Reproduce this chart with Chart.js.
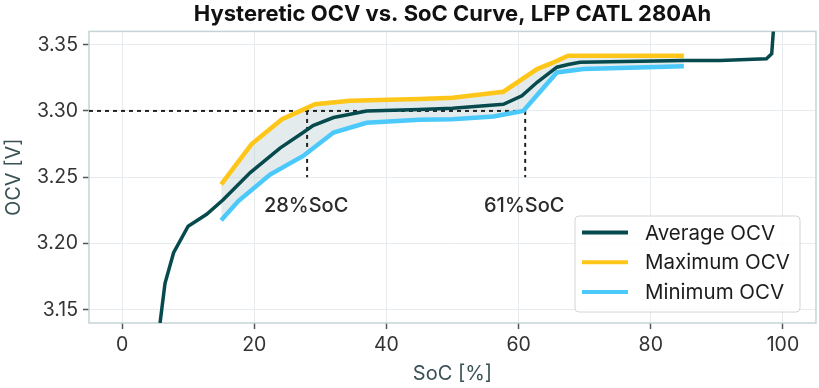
<!DOCTYPE html>
<html>
<head>
<meta charset="utf-8">
<script src="https://cdn.jsdelivr.net/npm/chart.js@4.4.1/dist/chart.umd.min.js"></script>
<style>
  html, body { margin: 0; padding: 0; background: #fff; }
  #wrap { width: 819px; height: 388px; }
</style>
</head>
<body>
<div id="wrap"><canvas id="ocvChart" width="819" height="388"></canvas></div>
<script>
// values
const socAvg = [5.75, 6.5, 7.8, 10.0, 12.8, 15.3, 19.4, 23.9, 27.4, 28.9, 32, 37, 45, 50, 57.7, 60.5, 62.8, 65.8, 67.5, 69.3, 85, 90.5, 95.5, 97.5, 98.3, 98.55];
const ocvAvg = [3.14, 3.17, 3.193, 3.213, 3.222, 3.233, 3.2535, 3.272, 3.2837, 3.289, 3.295, 3.300, 3.301, 3.302, 3.305, 3.3114, 3.3216, 3.333, 3.335, 3.3367, 3.338, 3.338, 3.339, 3.3394, 3.3432, 3.3605];
const socMax = [15, 19.6, 24.2, 27, 29.2, 34.5, 45, 50, 57.7, 62.8, 65, 67.5, 85];
const ocvMax = [3.2446, 3.275, 3.2938, 3.300, 3.305, 3.3076, 3.309, 3.310, 3.3145, 3.3316, 3.336, 3.3417, 3.3417];
const socMin = [15, 17.6, 22.4, 27.4, 32, 37, 45, 50, 56.2, 60.7, 65.8, 69.8, 85];
const ocvMin = [3.2176, 3.232, 3.252, 3.266, 3.2837, 3.291, 3.2933, 3.2938, 3.2958, 3.300, 3.329, 3.3316, 3.3337];
const xTicks = [0, 20, 40, 60, 80, 100];
const yTicks = [3.15, 3.20, 3.25, 3.30, 3.35];
const refSoc = [28, 61];
const refLabels = ['28%SoC', '61%SoC'];
const refOcv = 3.30;
const refLow = 3.25;
const refLabelOcv = 3.228;

const FONT = 'Inter, "Noto Sans", sans-serif';
const pts = (xs, ys) => xs.map((x, i) => ({ x: x, y: ys[i] }));

const dashed = (data) => ({
  data: data, borderColor: '#222', borderWidth: 2, borderDash: [4, 4],
  pointRadius: 0, fill: false, order: 3, isRef: true
});

const refSets = [dashed([{ x: -5, y: refOcv }, { x: refSoc[1], y: refOcv }])];
refSoc.forEach(s => refSets.push(dashed([{ x: s, y: refOcv }, { x: s, y: refLow }])));

const frame = {
  id: 'frame',
  beforeDatasetsDraw(chart) {
    const a = chart.chartArea, c = chart.ctx;
    c.save();
    c.strokeStyle = '#c6d3d7';
    c.lineWidth = 1.5;
    c.strokeRect(a.left, a.top, a.right - a.left, a.bottom - a.top);
    c.restore();
  },
  afterDraw(chart) {
    const c = chart.ctx, xs = chart.scales.x, ys = chart.scales.y;
    c.save();
    // reference labels
    c.fillStyle = '#2b2b2b';
    c.font = '500 20px ' + FONT;
    c.textAlign = 'center';
    c.textBaseline = 'middle';
    refSoc.forEach((s, i) => c.fillText(refLabels[i], xs.getPixelForValue(s) - 1, ys.getPixelForValue(refLabelOcv)));
    // legend box
    const items = chart.data.datasets.filter(d => !d.isRef);
    const bx = 575, by = 216, bw = 225, bh = 96;
    c.beginPath();
    c.roundRect(bx, by, bw, bh, 4);
    c.fillStyle = 'rgba(255,255,255,0.85)';
    c.fill();
    c.strokeStyle = '#d4d4d4';
    c.lineWidth = 1;
    c.stroke();
    c.font = '20.5px ' + FONT;
    c.textAlign = 'left';
    items.forEach((d, i) => {
      const y = by + 16.5 + i * 29.7;
      c.beginPath();
      c.moveTo(bx + 7, y);
      c.lineTo(bx + 53, y);
      c.strokeStyle = d.borderColor;
      c.lineWidth = 4;
      c.stroke();
      c.fillStyle = '#1c1c1c';
      c.fillText(d.label, bx + 70, y + 1);
    });
    c.restore();
  }
};

const ctx = document.getElementById('ocvChart').getContext('2d');
const ocvChart = new Chart(ctx, {
  type: 'line',
  data: {
    datasets: [
      { label: 'Average OCV', data: pts(socAvg, ocvAvg), borderColor: '#064a4d', borderWidth: 3.5, pointRadius: 0, fill: false, order: 0 },
      { label: 'Maximum OCV', data: pts(socMax, ocvMax), borderColor: '#ffc61a', borderWidth: 4.5, pointRadius: 0, order: 1,
        fill: { target: 2 }, backgroundColor: 'rgba(185,205,210,0.4)' },
      { label: 'Minimum OCV', data: pts(socMin, ocvMin), borderColor: '#4cc9fb', borderWidth: 4.5, pointRadius: 0, fill: false, order: 2 },
      ...refSets
    ]
  },
  options: {
    responsive: false,
    animation: false,
    layout: { padding: { top: 0, right: 3, left: 0, bottom: 0 } },
    plugins: {
      legend: { display: false },
      tooltip: { enabled: false },
      filler: { drawTime: 'beforeDatasetsDraw' },
      title: {
        display: true,
        fullSize: false,
        text: 'Hysteretic OCV vs. SoC Curve, LFP CATL 280Ah',
        color: '#111',
        font: { family: FONT, size: 22, weight: 'bold' },
        padding: { top: 1, bottom: 4 }
      }
    },
    scales: {
      x: {
        type: 'linear', min: -5, max: 105,
        afterBuildTicks: s => { s.ticks = xTicks.map(v => ({ value: v })); },
        afterFit: s => { s.height = 65; },
        grid: { color: '#e7ebed', tickColor: '#555', tickLength: 6, tickWidth: 1.5 },
        border: { display: false },
        ticks: { color: '#333', font: { family: FONT, size: 19.5 }, padding: 4, maxRotation: 0 },
        title: { display: true, text: 'SoC [%]', color: '#3a5256', font: { family: FONT, size: 20 }, padding: { top: 0, bottom: 2 } }
      },
      y: {
        type: 'linear', min: 3.14, max: 3.36,
        afterBuildTicks: s => { s.ticks = yTicks.map(v => ({ value: v })); },
        afterFit: s => { s.width = 89; },
        grid: { color: '#e7ebed', tickColor: '#555', tickLength: 6, tickWidth: 1.5 },
        border: { display: false },
        ticks: { color: '#333', font: { family: FONT, size: 19.5 }, padding: 5, callback: v => v.toFixed(2) },
        title: { display: true, text: 'OCV [V]', color: '#3a5256', font: { family: FONT, size: 20 }, padding: { top: 2, bottom: 0 } }
      }
    }
  },
  plugins: [frame]
});
</script>
</body>
</html>
